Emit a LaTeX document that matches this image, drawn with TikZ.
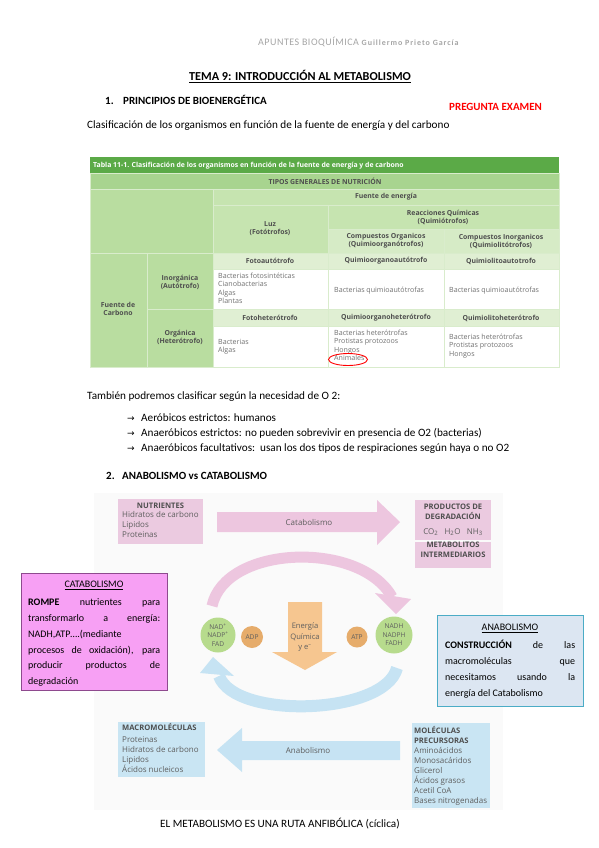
\documentclass[tikz,border=0pt]{standalone}
\usepackage{fontspec}
\setmainfont{Carlito}
\newfontfamily\dejavu{DejaVu Sans}
\newfontfamily\osans{Open Sans}
\definecolor{tgreen}{HTML}{5BAA47}
\definecolor{tgreenA}{HTML}{A8D48F}
\definecolor{tgreenB}{HTML}{C6E4B0}
\definecolor{tgreenC}{HTML}{B9DDA0}
\definecolor{tgreenD}{HTML}{E0EFD3}
\definecolor{tgreenE}{HTML}{D6EBC6}
\definecolor{tline}{HTML}{D9ECCC}
\definecolor{ttext}{HTML}{707070}
\definecolor{thead}{HTML}{4E4E4E}
\definecolor{pinkbox}{HTML}{EBCAE0}
\definecolor{pinkarr}{HTML}{EDC6DF}
\definecolor{bluebox}{HTML}{C9E5F3}
\definecolor{bluearr}{HTML}{C6E3F3}
\definecolor{orangearr}{HTML}{F6C690}
\definecolor{orangecirc}{HTML}{E6AC6B}
\definecolor{greencirc}{HTML}{B7DB8D}
\definecolor{catfill}{HTML}{F7A0F4}
\definecolor{catdraw}{HTML}{8E4A8E}
\definecolor{anafill}{HTML}{DCE6F2}
\definecolor{anadraw}{HTML}{4BACC6}
\definecolor{dtext}{HTML}{5E5E5E}
\definecolor{hdrgray}{HTML}{A6A6A6}
\tikzset{
  body/.style={anchor=mid west, inner sep=0pt, font=\fontsize{11.2}{13}\selectfont},
  bhead/.style={anchor=mid west, inner sep=0pt, font=\fontsize{11}{13}\selectfont\bfseries},
  cell/.style={draw=tline, line width=0.8pt},
  th/.style={inner sep=0pt, align=center, text=thead, font=\osans\fontsize{6.9}{8}\selectfont\bfseries},
  td/.style={inner sep=0pt, align=left, anchor=north west, text=ttext, font=\osans\fontsize{7.1}{8.2}\selectfont},
  dg/.style={inner sep=0pt, text=dtext, font=\osans\fontsize{8}{10}\selectfont},
  dgh/.style={inner sep=0pt, text=thead, font=\osans\fontsize{7.6}{10.2}\selectfont\bfseries},
  circ/.style={circle, inner sep=0pt, text=dtext, font=\osans\fontsize{6.6}{8.6}\selectfont, align=center},
  jl/.style={anchor=mid west, inner sep=0pt, font=\fontsize{10}{12}\selectfont},
}
\begin{document}
\begin{tikzpicture}[x=1pt,y=-1pt]
\path[use as bounding box, fill=white] (0,0) rectangle (599,848);

% header
\node[anchor=mid west, inner sep=0pt, text=hdrgray] (hdr) at (258,43)
  {\fontsize{10}{12}\selectfont\addfontfeature{LetterSpace=5}APUNTES BIOQUÍMICA \fontsize{8}{10}\selectfont\bfseries\addfontfeature{LetterSpace=12}Guillermo Prieto García};
\node[anchor=mid, inner sep=0pt, font=\fontsize{12.2}{14}\selectfont\bfseries] (tema) at (300,78)
  {\underline{TEMA 9: INTRODUCCIÓN AL METABOLISMO}};
\node[bhead] (n1) at (105,102) {1.};
\node[bhead] (s1) at (123,102) {PRINCIPIOS DE BIOENERGÉTICA};
\node[bhead, text=red] (preg) at (449,108) {PREGUNTA EXAMEN};
\node[body] (clas) at (87,126) {Clasificación de los organismos en función de la fuente de energía y del carbono};

% ---------------- table
\fill[tgreen] (90,157) rectangle (559,173);
\draw[cell, fill=tgreenA] (90,173) rectangle (559,189);
\draw[cell, fill=tgreenC] (90,189) rectangle (213,253);
\draw[cell, fill=tgreenB] (213,189) rectangle (559,205);
\draw[cell, fill=tgreenB] (213,205) rectangle (328,253);
\draw[cell, fill=tgreenB] (328,205) rectangle (559,229);
\draw[cell, fill=tgreenE] (328,229) rectangle (444,253);
\draw[cell, fill=tgreenE] (444,229) rectangle (559,253);
\draw[cell, fill=tgreenC] (90,253) rectangle (147,367);
\draw[cell, fill=tgreenC] (147,253) rectangle (213,309);
\draw[cell, fill=tgreenC] (147,309) rectangle (213,367);
\foreach \xa/\xb in {213/328,328/444,444/559}{
  \draw[cell, fill=tgreenD] (\xa,253) rectangle (\xb,269);
  \draw[cell, fill=white] (\xa,269) rectangle (\xb,309);
  \draw[cell, fill=tgreenD] (\xa,309) rectangle (\xb,326);
  \draw[cell, fill=white] (\xa,326) rectangle (\xb,367);
}
\node[anchor=mid west, inner sep=0pt, text=white, font=\osans\fontsize{6.9}{8}\selectfont\bfseries] (ttl) at (93,165)
  {Tabla 11-1. Clasificación de los organismos en función de la fuente de energía y de carbono};
\node[th] (tipos) at (325,181) {TIPOS GENERALES DE NUTRICIÓN};
\node[th] (fe) at (386,197) {Fuente de energía};
\node[th] (luz) at (270,229) {Luz\\(Fotótrofos)};
\node[th] (reac) at (443,217) {Reacciones Químicas\\(Quimiótrofos)};
\node[th] (corg) at (386,241) {Compuestos Organicos\\(Quimioorganótrofos)};
\node[th] (cinorg) at (501,241) {Compuestos Inorganicos\\(Quimiolitótrofos)};
\node[th] (fa) at (270,261) {Fotoautótrofo};
\node[th] (qoa) at (386,261) {Quimioorganoautótrofo};
\node[th] (qla) at (501,261) {Quimiolitoautotrofo};
\node[th] (fh) at (270,318) {Fotoheterótrofo};
\node[th] (qoh) at (386,318) {Quimioorganoheterótrofo};
\node[th] (qlh) at (501,318) {Quimiolitoheterótrofo};
\node[th] (inorg) at (180,282) {Inorgánica\\(Autótrofo)};
\node[th] (org) at (180,337) {Orgánica\\(Heterótrofo)};
\node[th] (fc) at (118,309) {Fuente de\\Carbono};
\node[td] (b1) at (218,273) {Bacterias fotosintéticas\\Cianobacterias\\Algas\\Plantas};
\node[td, anchor=mid west] (b2) at (334,290) {Bacterias quimioautótrofas};
\node[td, anchor=mid west] (b3) at (449,290) {Bacterias quimioautótrofas};
\node[td] (b4) at (218,339) {Bacterias\\Algas};
\node[td] (b5) at (334,330) {Bacterias heterótrofas\\Protistas protozoos\\Hongos\\Animales};
\node[td] (b6) at (449,334) {Bacterias heterótrofas\\Protistas protozoos\\Hongos};
\draw[red, line width=0.9pt] (348,359.5) ellipse [x radius=19.5, y radius=6];

% ---------------- O2 list
\node[body] (tamb) at (87,397) {También podremos clasificar según la necesidad de O 2:};
\node[anchor=mid west, inner sep=0pt, font=\dejavu\fontsize{9}{11}\selectfont] (a1) at (127,419) {→};
\node[body] (l1) at (141,419) {Aeróbicos estrictos: humanos};
\node[anchor=mid west, inner sep=0pt, font=\dejavu\fontsize{9}{11}\selectfont] (a2) at (127,434) {→};
\node[body] (l2) at (141,434) {Anaeróbicos estrictos: no pueden sobrevivir en presencia de O2 (bacterias)};
\node[anchor=mid west, inner sep=0pt, font=\dejavu\fontsize{9}{11}\selectfont] (a3) at (127,449) {→};
\node[body] (l3) at (141,449) {Anaeróbicos facultativos:\ \ usan los dos tipos de respiraciones según haya o no O2};
\node[bhead] (n2) at (106,477) {2.};
\node[bhead] (s2) at (122,477) {ANABOLISMO vs CATABOLISMO};

% ---------------- diagram
\fill[black!2] (94,493) rectangle (503,810);
% catabolism arrow
\fill[pinkarr] (217,512) -- (377,512) -- (377,500) -- (400,522) -- (377,545) -- (377,532) -- (217,532) -- cycle;
\node[dg] (catl) at (309,522) {Catabolismo};
% anabolism arrow
\fill[bluearr] (400,741) -- (242,741) -- (242,728) -- (217,750) -- (242,772) -- (242,760) -- (400,760) -- cycle;
\node[dg] (anal) at (308,750) {Anabolismo};
% pink arc
\draw[pinkarr, line width=11pt] (212,606) .. controls (225,545) and (360,540) .. (392,597);
\fill[pinkarr] (375,593) -- (411,599) -- (396,614) -- cycle;
% blue arc
\draw[bluearr, line width=12pt] (397,668) .. controls (385,715) and (235,720) .. (219,676);
\fill[bluearr] (200,673) -- (234,676) -- (213,657) -- cycle;
% orange arrow
\fill[orangearr] (288,602) -- (322,602) -- (322,652) -- (337,652) -- (305,670) -- (272,652) -- (288,652) -- cycle;
\node[dg, align=center, font=\osans\fontsize{7.6}{10.3}\selectfont] (eq) at (305,637) {Energía\\Química\\y e\textsuperscript{–}};
% circles
\node[circ, fill=greencirc, minimum size=35pt] (nad) at (218,635) {NAD\textsuperscript{+}\\NADP\textsuperscript{+}\\FAD};
\node[circ, fill=orangecirc, minimum size=22pt] (adp) at (252,637) {ADP};
\node[circ, fill=orangecirc, minimum size=21pt] (atp) at (357,637) {ATP};
\node[circ, fill=greencirc, minimum size=37pt] (nadh) at (394,635) {NADH\\NADPH\\FADH};
% boxes
\node[fill=pinkbox, minimum width=85pt, minimum height=45pt, anchor=north west, inner sep=0pt] (nut) at (118,499) {};
\node[dgh, anchor=mid] (nutt) at (160.5,506) {NUTRIENTES};
\node[dg, anchor=north west, align=left] (nutl) at (122,511) {Hidratos de carbono\\Lipidos\\Proteinas};
\node[fill=pinkbox, minimum width=76pt, minimum height=40pt, anchor=north west, inner sep=0pt] (prod) at (415,500) {};
\node[fill=pinkbox, minimum width=76pt, minimum height=26pt, anchor=north west, inner sep=0pt] (meta) at (415,542) {};
\node[dgh, align=center, anchor=north] (prodt) at (453,504) {PRODUCTOS DE\\DEGRADACIÓN};
\node[dg, anchor=mid] (prodm) at (453,532) {CO\textsubscript{2}\ \ \ H\textsubscript{2}O\ \ \ NH\textsubscript{3}};
\node[dgh, align=center, anchor=mid] (metat) at (453,555) {METABOLITOS\\INTERMEDIARIOS};
\node[fill=bluebox, minimum width=87pt, minimum height=55pt, anchor=north west, inner sep=0pt] (macro) at (118,722) {};
\node[dgh, anchor=mid west] (macrot) at (122,728) {MACROMOLÉCULAS};
\node[dg, anchor=north west, align=left] (macrol) at (122,736) {Proteinas\\Hidratos de carbono\\Lipidos\\Ácidos nucleicos};
\node[fill=bluebox, minimum width=78pt, minimum height=85pt, anchor=north west, inner sep=0pt] (prec) at (412,723) {};
\node[dgh, anchor=north west, align=left] (prect) at (414,726) {MOLÉCULAS\\PRECURSORAS};
\node[dg, anchor=north west, align=left] (precl) at (414,747) {Aminoácidos\\Monosacáridos\\Glicerol\\Ácidos grasos\\Acetil CoA\\Bases nitrogenadas};

% CATABOLISMO box
\node[draw=catdraw, fill=catfill, line width=0.8pt, minimum width=146pt, minimum height=117pt, anchor=north west, inner sep=0pt] (cat) at (21,573) {};
\node[anchor=mid, inner sep=0pt, font=\fontsize{10}{12}\selectfont] (catt) at (94,585) {\underline{CATABOLISMO}};
\node[jl] (c1) at (28,603) {\makebox[132pt][s]{\textbf{ROMPE} nutrientes para}};
\node[jl] (c2) at (28,619) {\makebox[132pt][s]{transformarlo a energía:}};
\node[jl] (c3) at (28,635) {NADH,ATP….(mediante};
\node[jl] (c4) at (28,651) {\makebox[132pt][s]{procesos de oxidación), para}};
\node[jl] (c5) at (28,666) {\makebox[132pt][s]{producir productos de}};
\node[jl] (c6) at (28,682) {degradación};

% ANABOLISMO box
\node[draw=anadraw, fill=anafill, line width=1.2pt, minimum width=146pt, minimum height=91pt, anchor=north west, inner sep=0pt] (ana) at (437,615) {};
\node[anchor=mid, inner sep=0pt, font=\fontsize{10}{12}\selectfont] (anat) at (510,628) {\underline{ANABOLISMO}};
\node[jl] (d1) at (445,646) {\makebox[130pt][s]{\textbf{CONSTRUCCIÓN} de las}};
\node[jl] (d2) at (445,662) {\makebox[130pt][s]{macromoléculas que}};
\node[jl] (d3) at (445,678) {\makebox[130pt][s]{necesitamos usando la}};
\node[jl] (d4) at (445,694) {energía del Catabolismo};

% caption
\node[jl, font=\fontsize{11.2}{13}\selectfont] (cap) at (160,825) {EL METABOLISMO ES UNA RUTA ANFIBÓLICA (cíclica)};
\end{tikzpicture}
\end{document}
